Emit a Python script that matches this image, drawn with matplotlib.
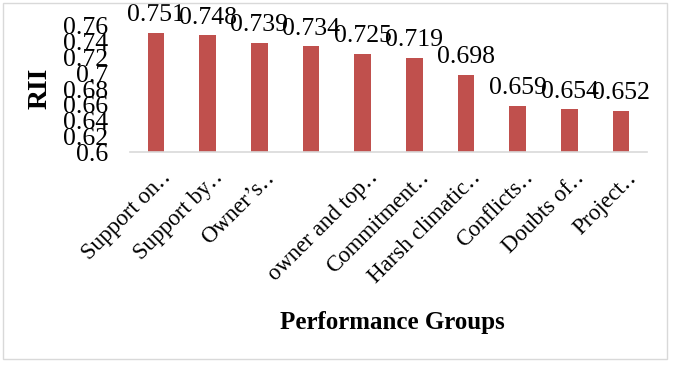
import matplotlib
matplotlib.use('Agg')
import matplotlib.pyplot as plt
import matplotlib.transforms as mtransforms
from matplotlib.patches import Rectangle

# dados
grupos = ['Support on\u2025', 'Support by\u2025', 'Owner\u2019s\u2025', '',
          'owner and top\u2025', 'Commitment\u2025', 'Harsh climatic\u2025',
          'Conflicts\u2025', 'Doubts of\u2025', 'Project\u2025']
rii = [0.751, 0.748, 0.739, 0.734, 0.725, 0.719, 0.698, 0.659, 0.654, 0.652]
yticks = [0.6, 0.62, 0.64, 0.66, 0.68, 0.7, 0.72, 0.74, 0.76]

plt.rcParams['font.family'] = ['Liberation Serif', 'DejaVu Serif']

fig = plt.figure(figsize=(6.74, 3.72), dpi=100)
ax = fig.add_axes([130/674, 1 - 152/372, 517/674, 126/372])

x = range(len(rii))
barras = ax.bar(x, rii, width=0.32, color='#C0504D')
ax.bar_label(barras, labels=['%g' % v for v in rii], padding=5, fontsize=18.5)

ax.set_xlim(-0.5, len(rii) - 0.5)
ax.set_ylim(0.6, 0.76)
ax.set_yticks(yticks)
ax.set_yticklabels(['%g' % v for v in yticks], fontsize=18.5)
ax.set_xticks(list(x))
ax.set_xticklabels(grupos, fontsize=16.5)
ax.tick_params(axis='both', length=0)
ax.tick_params(axis='y', pad=16)
ax.tick_params(axis='x', pad=19)

desloc = mtransforms.ScaledTranslation(0.16, 0, fig.dpi_scale_trans)
for rot in ax.get_xticklabels():
    rot.set_rotation(45)
    rot.set_ha('right')
    rot.set_va('baseline')
    rot.set_rotation_mode('anchor')
    rot.set_transform(rot.get_transform() + desloc)

for lado in ['top', 'right', 'left']:
    ax.spines[lado].set_visible(False)
ax.spines['bottom'].set_color('#d9d9d9')
ax.spines['bottom'].set_linewidth(1.2)

ax.set_xlabel('Performance Groups', fontsize=18, fontweight='bold', va='center')
ax.xaxis.set_label_coords((392 - 130) / 517, (152 - 323) / 126)
ax.set_ylabel('RII', fontsize=20, fontweight='bold', va='center')
ax.yaxis.set_label_coords((40 - 130) / 517, (152 - 88) / 126)

# borda do grafico
fig.patches.append(Rectangle((3/674, 1 - 359/372), 664/674, 356/372,
                             transform=fig.transFigure, fill=False,
                             edgecolor='#d9d9d9', linewidth=1))

fig.savefig('out.png', dpi=100)
